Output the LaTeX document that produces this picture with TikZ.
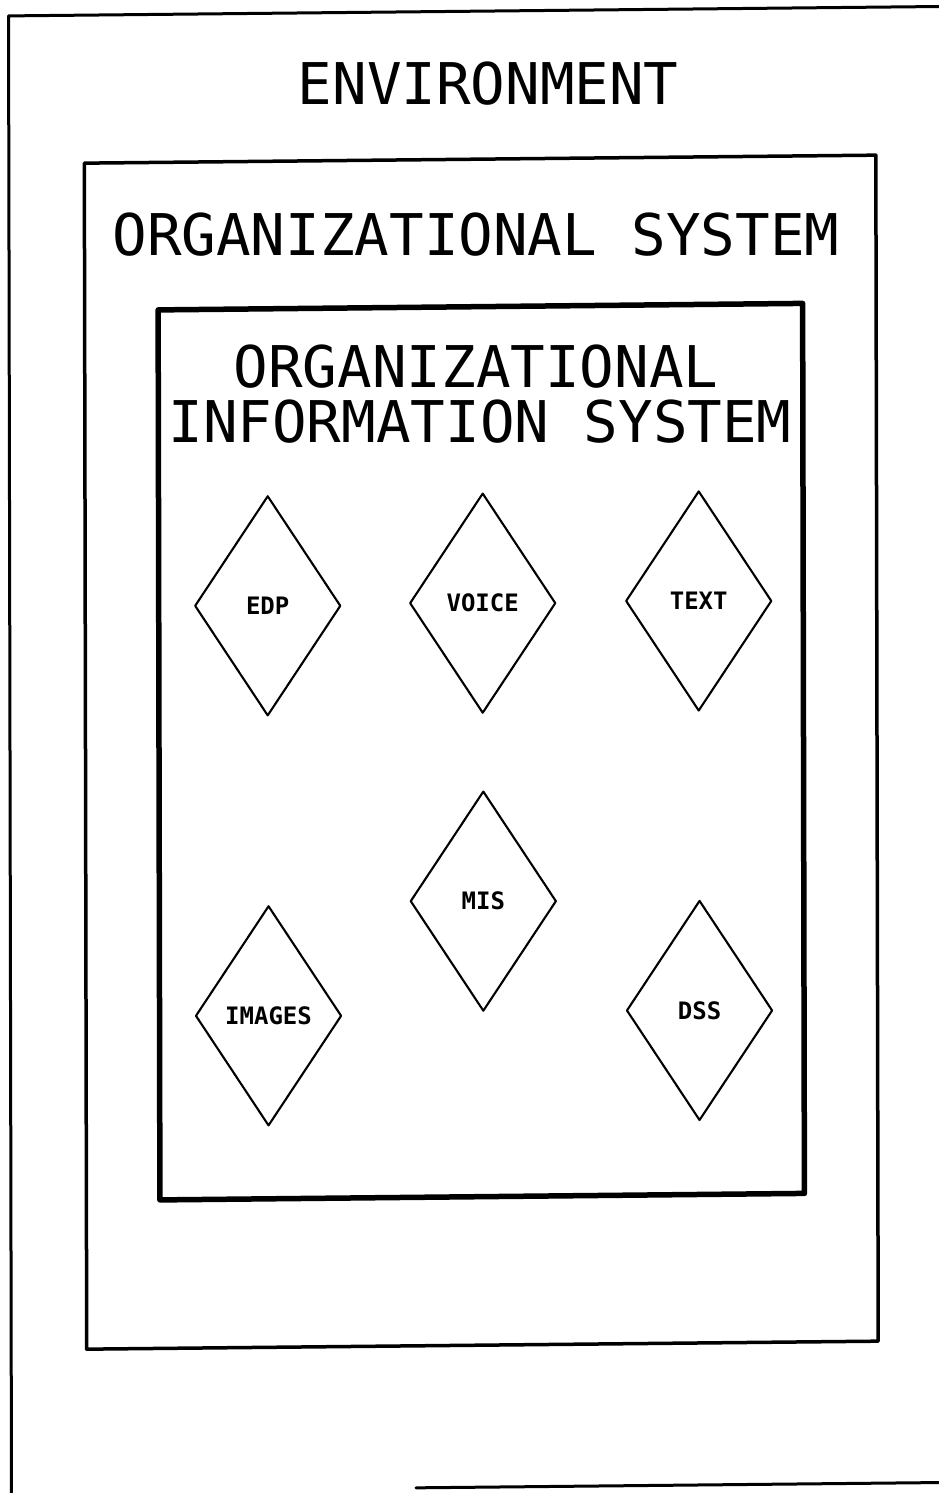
\documentclass[tikz,border=0pt]{standalone}
\usepackage{fontspec}
\newfontfamily\plotfont{DejaVu Sans Mono}
\usetikzlibrary{shapes.geometric}
\begin{document}
\begin{tikzpicture}[x=1pt,y=-1pt,
  title/.style={font=\plotfont\fontsize{57.5}{55}\selectfont, inner sep=0pt, anchor=base},
  unit/.style={diamond, draw, line width=2.1pt, line join=round, minimum width=146pt, minimum height=220pt, inner sep=0pt, font=\plotfont\bfseries\fontsize{24}{24}\selectfont},
  outerframe/.style={line width=3pt, line cap=round, line join=round},
  midframe/.style={line width=3.5pt, line join=round},
  innerframe/.style={line width=5.5pt, line join=round}]
\useasboundingbox (0,0) rectangle (938,1493);
\begin{scope}[cm={1,0.0101,-0.002,1,(0,0)}]
  % environment frame (right side and bottom-left run off the page)
  \draw[outerframe] (960,16) -- (8.5,16) -- (8.5,1510);
  \draw[outerframe] (413,1492) -- (960,1492);
  % organizational system box
  \draw[midframe] (84,164) rectangle (875.5,1350);
  % organizational information system box
  \draw[innerframe] (157.5,311.5) rectangle (802,1201.5);
  % titles
  \node[title] (env) at (488,109) {ENVIRONMENT};
  \node[title] (orgsys) at (475.5,260.5) {ORGANIZATIONAL SYSTEM};
  \node[title] (ois1) at (475.3,392.5) {ORGANIZATIONAL};
  \node[title] (ois2) at (479.2,447.5) {INFORMATION SYSTEM};
  % components
  \node[unit] (edp) at (266.5,608.5) {EDP};
  \node[unit] (voice) at (481.5,608) {VOICE};
  \node[unit] (text) at (697.5,608) {TEXT};
  \node[unit] (mis) at (481.5,906) {MIS};
  \node[unit] (images) at (266.5,1018.5) {IMAGES};
  \node[unit] (dss) at (697.5,1017.5) {DSS};
\end{scope}
\end{tikzpicture}
\end{document}
